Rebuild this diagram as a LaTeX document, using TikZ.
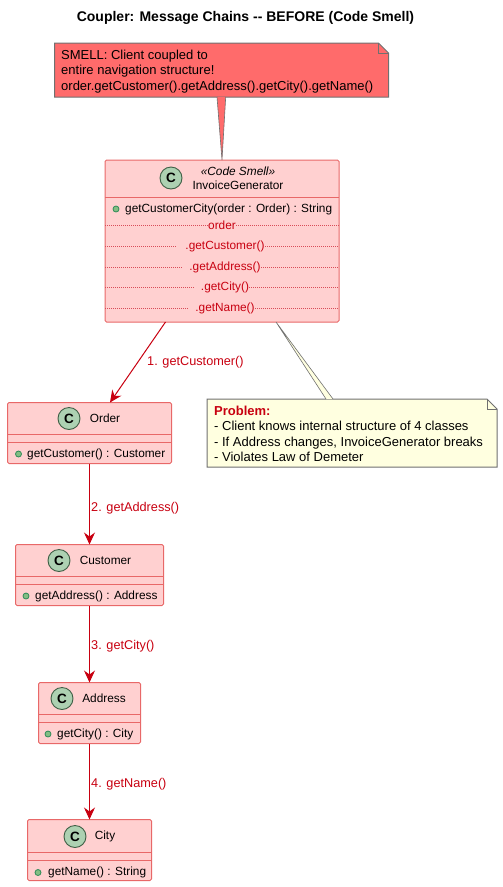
\documentclass[tikz,border=0pt]{standalone}
\usepackage{fontspec}
\setmainfont{Liberation Sans}
\usetikzlibrary{positioning,arrows.meta}
\definecolor{smellred}{HTML}{FF6B6B}
\definecolor{smellpink}{HTML}{FFD0D0}
\definecolor{smellline}{HTML}{E86868}
\definecolor{callred}{HTML}{C80010}
\definecolor{noteyellow}{HTML}{FFFFE0}
\definecolor{notegrey}{HTML}{707070}
\definecolor{spotgreen}{HTML}{ADD1B2}
\definecolor{spotline}{HTML}{3F5F46}
\definecolor{dotgreen}{HTML}{84BE84}
\definecolor{dotline}{HTML}{2E8B57}
\tikzset{
  classbox/.style={draw=smellline,fill=smellpink,rounded corners=1.5pt,outer sep=0pt,inner sep=0pt,line width=1pt},
  sepline/.style={draw=smellline,line width=0.8pt},
  rowline/.style={draw=callred!70,line width=0.6pt,dash pattern=on 1pt off 1pt},
  spot/.style={circle,draw=spotline,fill=spotgreen,minimum size=22pt,inner sep=0pt,outer sep=0pt,line width=0.9pt,font=\fontsize{13.5}{14}\selectfont\bfseries},
  dot/.style={circle,draw=dotline,fill=dotgreen,minimum size=6pt,inner sep=0pt,line width=0.8pt},
  txt/.style={inner sep=0pt,font=\fontsize{11.85}{12}\selectfont},
  redtxt/.style={txt,text=callred},
  calllabel/.style={inner sep=0pt,text=callred,font=\fontsize{12.7}{13}\selectfont},
  call/.style={draw=callred,line width=1pt,-{Stealth[length=12pt,width=11pt,inset=4pt]}},
  notebox/.style={rectangle,outer sep=0pt,inner sep=0pt},
  noteshape/.style={draw=notegrey,line width=1pt},
  notetext/.style={anchor=north west,inner sep=0pt,align=left,font=\fontsize{13}{15.2}\selectfont},
  tail/.style={draw=notegrey,line width=0.6pt}
}
\begin{document}
\begin{tikzpicture}[x=1pt,y=-1pt,node distance=142pt,on grid]
  \useasboundingbox (0,0) rectangle (503,887);
  \node[font=\fontsize{14}{14}\selectfont\bfseries,inner sep=0pt] (title) at (245.5,18) {Coupler: Message Chains -{}- BEFORE (Code Smell)};

  % classes
  \node[classbox,minimum width=234pt,minimum height=162pt] (invoice) at (222,241) {};
  \node[classbox,minimum width=164pt,minimum height=61pt] (order) at (89.5,433) {};
  \node[classbox,minimum width=148pt,minimum height=61pt] (customer) [below=of order] {};
  \node[classbox,minimum width=102pt,minimum height=61pt] (address) [below=138pt of customer] {};
  \node[classbox,minimum width=124pt,minimum height=61pt] (city) [below=137pt of address] {};

  \draw[sepline] (invoice.west |- 0,197) -- (invoice.east |- 0,197);
  \draw[sepline] (order.west |- 0,434) -- (order.east |- 0,434);
  \draw[sepline] (order.west |- 0,442) -- (order.east |- 0,442);
  \draw[sepline] (customer.west |- 0,576) -- (customer.east |- 0,576);
  \draw[sepline] (customer.west |- 0,584) -- (customer.east |- 0,584);
  \draw[sepline] (address.west |- 0,714) -- (address.east |- 0,714);
  \draw[sepline] (address.west |- 0,722) -- (address.east |- 0,722);
  \draw[sepline] (city.west |- 0,852) -- (city.east |- 0,852);
  \draw[sepline] (city.west |- 0,860) -- (city.east |- 0,860);

  % class headers
  \node[spot] (invoiceSpot) at (171,178) {C};
  \node[txt,font=\fontsize{11.85}{12}\selectfont\itshape] (invoiceTag) at (238,171) {«Code Smell»};
  \node[txt] (invoiceName) at (238,185) {InvoiceGenerator};
  \node[spot] (orderSpot) at (69,418.5) {C};
  \node[txt] (orderName) at (105,418) {Order};
  \node[spot] (customerSpot) at (59,560.5) {C};
  \node[txt] (customerName) at (105.5,560) {Customer};
  \node[spot] (addressSpot) at (62,698.5) {C};
  \node[txt] (addressName) at (104,698) {Address};
  \node[spot] (citySpot) at (75,836.5) {C};
  \node[txt] (cityName) at (105,836) {City};

  % methods
  \node[dot] (invoiceDot) at (116,209) {};
  \node[txt,anchor=base west] (invoiceMethod) at (125,212.5) {getCustomerCity(order : Order) : String};
  \node[dot] (orderDot) at (18.5,454) {};
  \node[txt,anchor=base west] (orderMethod) at (27,457.5) {getCustomer() : Customer};
  \node[dot] (customerDot) at (26,596) {};
  \node[txt,anchor=base west] (customerMethod) at (35,599.5) {getAddress() : Address};
  \node[dot] (addressDot) at (48,734) {};
  \node[txt,anchor=base west] (addressMethod) at (57,737.5) {getCity() : City};
  \node[dot] (cityDot) at (38,872.5) {};
  \node[txt,anchor=base west] (cityMethod) at (48,875.5) {getName() : String};

  % chain inside the method body
  \node[redtxt] (rowOrder) at (222,225) {order};
  \node[redtxt] (rowCustomer) at (225,246) {.getCustomer()};
  \node[redtxt] (rowAddress) at (225,267) {.getAddress()};
  \node[redtxt] (rowCity) at (225,287) {.getCity()};
  \node[redtxt] (rowName) at (225,308) {.getName()};
  \draw[rowline] (invoice.west |- rowOrder) -- (208,225);
  \draw[rowline] (236,225) -- (invoice.east |- rowOrder);
  \draw[rowline] (invoice.west |- rowCustomer) -- (177,246);
  \draw[rowline] (265,246) -- (invoice.east |- rowCustomer);
  \draw[rowline] (invoice.west |- rowAddress) -- (183,267);
  \draw[rowline] (261,267) -- (invoice.east |- rowAddress);
  \draw[rowline] (invoice.west |- rowCity) -- (195,287);
  \draw[rowline] (249,287) -- (invoice.east |- rowCity);
  \draw[rowline] (invoice.west |- rowName) -- (189,308);
  \draw[rowline] (255,308) -- (invoice.east |- rowName);

  % notes
  \node[notebox,minimum width=334pt,minimum height=54pt] (smell) at (221.5,70) {};
  \draw[noteshape,fill=smellred] (smell.north west) -- ([xshift=-10pt]smell.north east) -- ([yshift=-10pt]smell.north east) -- (smell.south east) -- (smell.south west) -- cycle;
  \draw[tail,fill=smellred] (217,97) -- (invoice.north) -- (225.7,97);
  \draw[notegrey,line width=0.8pt] ([xshift=-10pt]smell.north east) -- ++(0,10) -- ++(10,0);
  \node[notetext] (smellText) at (61,50) {SMELL: Client coupled to\\entire navigation structure!\\order.getCustomer().getAddress().getCity().getName()};
  \node[notebox,minimum width=290pt,minimum height=68pt] (problem) at (352,433) {};
  \draw[noteshape,fill=noteyellow] (problem.north west) -- ([xshift=-10pt]problem.north east) -- ([yshift=-10pt]problem.north east) -- (problem.south east) -- (problem.south west) -- cycle;
  \draw[tail,fill=noteyellow] (326,399) -- ([xshift=54pt]invoice.south) -- (333,399);
  \draw[notegrey,line width=0.8pt] ([xshift=-10pt]problem.north east) -- ++(0,10) -- ++(10,0);
  \node[notetext] (problemText) at (214,406) {\textcolor{callred}{\textbf{Problem:}}\\- Client knows internal structure of 4 classes\\- If Address changes, InvoiceGenerator breaks\\- Violates Law of Demeter};

  % calls
  \draw[call] ([xshift=-56.5pt]invoice.south) -- ([xshift=20.5pt]order.north);
  \draw[call] (order) ++(0,30.5) -- (customer.north);
  \draw[call] (customer) ++(0,30.5) -- (address.north);
  \draw[call] (address) ++(0,30.5) -- (city.north);
  \node[calllabel,anchor=base west] (labelOne) at (147,365) {1. getCustomer()};
  \node[calllabel,anchor=base west] (labelTwo) at (91,511) {2. getAddress()};
  \node[calllabel,anchor=base west] (labelThree) at (91,649) {3. getCity()};
  \node[calllabel,anchor=base west] (labelFour) at (91,787) {4. getName()};
\end{tikzpicture}
\end{document}
